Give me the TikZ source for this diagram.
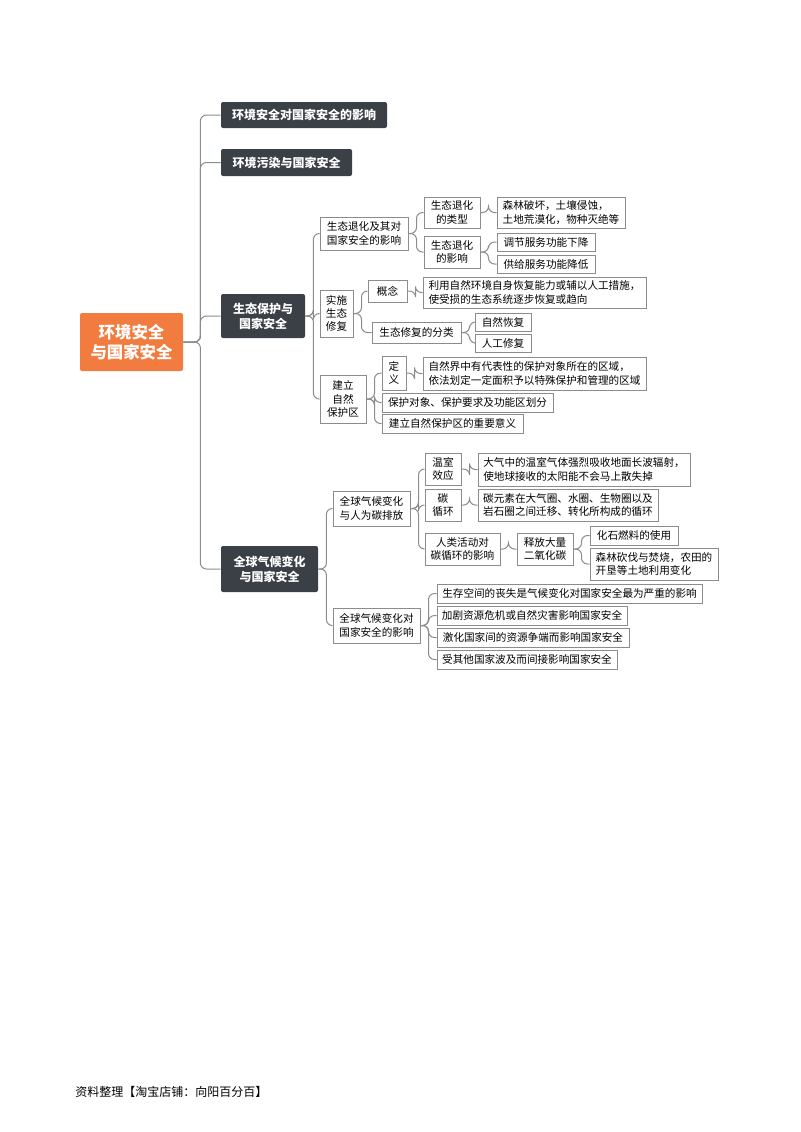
\documentclass[tikz,border=0pt]{standalone}
\usepackage{fontspec}
\setmainfont{Noto Sans CJK SC}
\definecolor{rootorange}{HTML}{F27B3F}
\definecolor{darkbox}{HTML}{3B3F46}
\definecolor{linegray}{HTML}{8C8C8C}
\tikzstyle{root}=[fill=rootorange,text=white,font=\fontsize{8.2}{10}\selectfont\bfseries,align=center,inner sep=0pt,rounded corners=1pt]
\tikzstyle{topic}=[fill=darkbox,text=white,font=\fontsize{6}{7.6}\selectfont\bfseries,align=center,inner sep=0pt,rounded corners=1pt]
\tikzstyle{sub}=[draw=linegray,fill=white,font=\fontsize{5.3}{6.7}\selectfont,align=center,inner sep=0pt,line width=0.5pt]
\tikzstyle{leaf}=[sub,align=left]
\tikzstyle{conn}=[draw=linegray,line width=0.5pt,rounded corners=3pt]
\begin{document}
\begin{tikzpicture}[x=0.5pt,y=0.5pt]
  \useasboundingbox (0,0) rectangle (800,-1132);
  % centre node and main topics
  \node[root,minimum width=51.5pt,minimum height=29pt] (root) at (131.5,-342) {环境安全\\与国家安全};
  \node[topic,minimum width=83pt,minimum height=13pt] (impact) at (304,-115) {环境安全对国家安全的影响};
  \node[topic,minimum width=65.5pt,minimum height=13.5pt] (pollute) at (286.5,-162.5) {环境污染与国家安全};
  \node[topic,minimum width=42pt,minimum height=22pt] (eco) at (263,-316) {生态保护与\\国家安全};
  \node[topic,minimum width=48.5pt,minimum height=23pt] (climate) at (269.5,-569) {全球气候变化\\与国家安全};

  % ecological protection branch
  \node[sub,minimum width=44pt,minimum height=16.5pt] (degrade) at (364,-233.5) {生态退化及其对\\国家安全的影响};
  \node[sub,minimum width=16.5pt,minimum height=23.5pt] (repair) at (336.5,-313.5) {实施\\生态\\修复};
  \node[sub,minimum width=23pt,minimum height=24pt] (reserve) at (343,-399) {建立\\自然\\保护区};
  \node[sub,minimum width=28pt,minimum height=15.5pt] (dtype) at (452,-212.5) {生态退化\\的类型};
  \node[leaf,minimum width=64pt,minimum height=15.5pt] (dtypeL) at (561,-212.5) {森林破坏，土壤侵蚀，\\土地荒漠化，物种灭绝等};
  \node[sub,minimum width=28pt,minimum height=16pt] (deffect) at (452,-252) {生态退化\\的影响};
  \node[leaf,minimum width=49pt,minimum height=9pt] (regul) at (546,-242) {调节服务功能下降};
  \node[leaf,minimum width=49pt,minimum height=9pt] (supply) at (546,-264) {供给服务功能降低};
  \node[sub,minimum width=19.5pt,minimum height=11pt] (concept) at (387.5,-291) {概念};
  \node[leaf,minimum width=111.5pt,minimum height=15.5pt] (conceptL) at (534.5,-292.5) {利用自然环境自身恢复能力或辅以人工措施，\\使受损的生态系统逐步恢复或趋向};
  \node[sub,minimum width=44.5pt,minimum height=10.5pt] (rclass) at (416.5,-332.5) {生态修复的分类};
  \node[sub,minimum width=28pt,minimum height=9pt] (natural) at (503,-322) {自然恢复};
  \node[sub,minimum width=28pt,minimum height=9pt] (manual) at (503,-343) {人工修复};
  \node[sub,minimum width=12pt,minimum height=17pt] (define) at (394,-373) {定\\义};
  \node[leaf,minimum width=111.5pt,minimum height=16.5pt] (defineL) at (534.5,-373.5) {自然界中有代表性的保护对象所在的区域，\\依法划定一定面积予以特殊保护和管理的区域};
  \node[leaf,minimum width=85.5pt,minimum height=9.5pt] (zoning) at (467.5,-402.5) {保护对象、保护要求及功能区划分};
  \node[leaf,minimum width=70.5pt,minimum height=9.5pt] (meaning) at (452.5,-423.5) {建立自然保护区的重要意义};

  % climate change branch
  \node[sub,minimum width=38.5pt,minimum height=17.5pt] (carbon) at (371.5,-508.5) {全球气候变化\\与人为碳排放};
  \node[sub,minimum width=43.5pt,minimum height=17.5pt] (security) at (376.5,-625.5) {全球气候变化对\\国家安全的影响};
  \node[sub,minimum width=18pt,minimum height=16pt] (green) at (443,-469) {温室\\效应};
  \node[leaf,minimum width=106pt,minimum height=16.5pt] (greenL) at (584,-469.5) {大气中的温室气体强烈吸收地面长波辐射，\\使地球接收的太阳能不会马上散失掉};
  \node[sub,minimum width=18pt,minimum height=16pt] (cycle) at (443,-505) {碳\\循环};
  \node[leaf,minimum width=90pt,minimum height=16pt] (cycleL) at (568,-505) {碳元素在大气圈、水圈、生物圈以及\\岩石圈之间迁移、转化所构成的循环};
  \node[sub,minimum width=37.5pt,minimum height=16pt] (human) at (462.5,-549) {人类活动对\\碳循环的影响};
  \node[sub,minimum width=28pt,minimum height=16pt] (release) at (545,-549) {释放大量\\二氧化碳};
  \node[leaf,minimum width=44pt,minimum height=9.5pt] (fossil) at (634,-535.5) {化石燃料的使用};
  \node[leaf,minimum width=64pt,minimum height=16pt] (forest) at (654,-564) {森林砍伐与焚烧，农田的\\开垦等土地利用变化};
  \node[leaf,minimum width=132.5pt,minimum height=9.5pt] (space) at (569.5,-593.5) {生存空间的丧失是气候变化对国家安全最为严重的影响};
  \node[leaf,minimum width=95pt,minimum height=9.5pt] (crisis) at (532,-615.5) {加剧资源危机或自然灾害影响国家安全};
  \node[leaf,minimum width=96pt,minimum height=9.5pt] (dispute) at (533,-637.5) {激化国家间的资源争端而影响国家安全};
  \node[leaf,minimum width=90pt,minimum height=9.5pt] (spill) at (527,-659.5) {受其他国家波及而间接影响国家安全};

  % connectors
  \foreach \child in {impact, pollute, eco, climate}
    \draw[conn] (root.east) -- ++(17,0) |- (\child.west);
  \foreach \parent/\child in {eco/degrade, eco/repair, eco/reserve, degrade/dtype, degrade/deffect,
      dtype/dtypeL, deffect/regul, deffect/supply, repair/concept, repair/rclass, concept/conceptL,
      rclass/natural, rclass/manual, reserve/define, reserve/zoning, reserve/meaning, define/defineL,
      climate/carbon, climate/security, carbon/green, carbon/cycle, carbon/human, green/greenL,
      cycle/cycleL, human/release, release/fossil, release/forest,
      security/space, security/crisis, security/dispute, security/spill}
    \draw[conn] (\parent.east) -- ++(8,0) |- (\child.west);

  \node[anchor=west,font=\fontsize{6}{7}\selectfont,inner sep=0pt] (footer) at (75,-1092) {资料整理【淘宝店铺：向阳百分百】};
\end{tikzpicture}
\end{document}
